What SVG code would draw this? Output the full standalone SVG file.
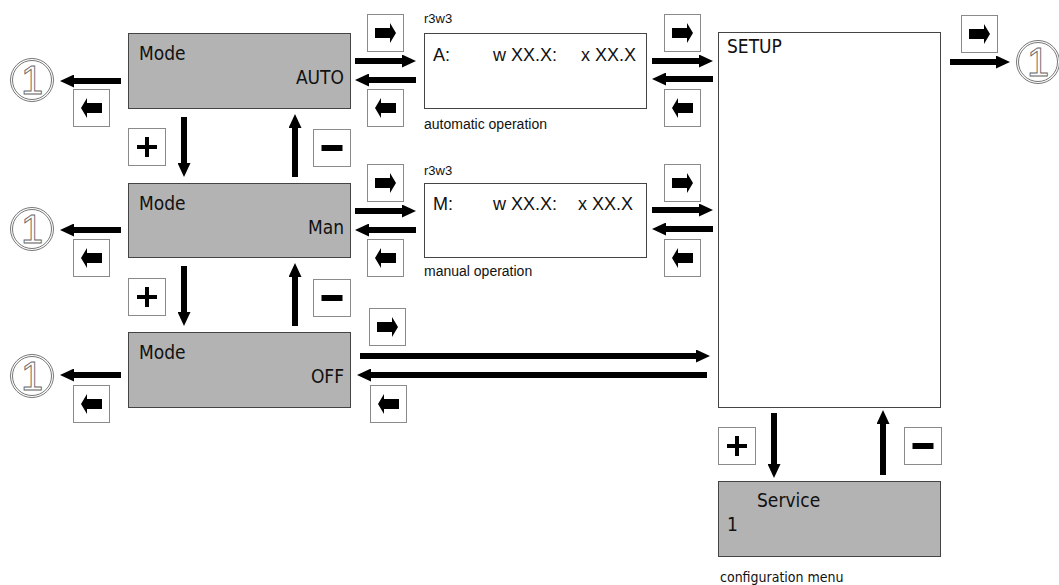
<svg xmlns="http://www.w3.org/2000/svg" xmlns:xlink="http://www.w3.org/1999/xlink" width="1059" height="585" viewBox="0 0 1059 585">
<style>
.mode{fill:#b3b3b3;stroke:#444;stroke-width:1}
.disp{fill:#fff;stroke:#444;stroke-width:1}
.t{font-family:'DejaVu Sans Condensed','DejaVu Sans',sans-serif;font-size:19px;fill:#111}
.a{font-family:'Liberation Sans',Arial,sans-serif;font-size:18px;fill:#111}
.s{font-family:'Liberation Sans',Arial,sans-serif;font-size:13px;fill:#111}
.op{font-family:'Liberation Sans',Arial,sans-serif;font-size:14px;fill:#111}
.c{font-family:'DejaVu Sans Condensed','DejaVu Sans',sans-serif;font-size:14px;fill:#111}
.conn{fill:none;stroke:#000;stroke-width:6;marker-end:url(#ah)}
.ring{fill:#fff;stroke:#777;stroke-width:1}
.one{font-family:'Liberation Sans',Arial,sans-serif;font-size:40px;fill:#fff;stroke:#666;stroke-width:0.9;text-anchor:middle}
</style>
<defs>
<marker id="ah" markerUnits="userSpaceOnUse" markerWidth="14" markerHeight="13" viewBox="0 0 14 13" refX="0" refY="6.5" orient="auto"><path d="M0,0 L14,6.5 L0,13 Z" fill="#000"/></marker>
<symbol id="k-fwd" viewBox="0 0 37 38" width="37" height="38"><rect x="0.5" y="0.5" width="36" height="37" fill="#fff" stroke="#8a8a8a"/><path d="M8,14 H23 V9 L29,19 L23,29 V24 H8 Z" fill="#000"/></symbol>
<symbol id="k-back" viewBox="0 0 37 38" width="37" height="38"><rect x="0.5" y="0.5" width="36" height="37" fill="#fff" stroke="#8a8a8a"/><path d="M29,14 H14 V9 L8,19 L14,29 V24 H29 Z" fill="#000"/></symbol>
<symbol id="k-plus" viewBox="0 0 38 38" width="38" height="38"><rect x="0.5" y="0.5" width="37" height="37" fill="#fff" stroke="#8a8a8a"/><path d="M9,19 H29 M19,9 V29" stroke="#000" stroke-width="4"/></symbol>
<symbol id="k-minus" viewBox="0 0 38 38" width="38" height="38"><rect x="0.5" y="0.5" width="37" height="37" fill="#fff" stroke="#8a8a8a"/><rect x="8.5" y="16" width="21" height="6" fill="#000"/></symbol>
</defs>
<rect width="1059" height="585" fill="#fff"/>

<g id="mode-auto"><rect class="mode" x="128.5" y="33.5" width="222" height="75"/><text class="t" x="139" y="60">Mode</text><text class="t" x="344" y="84" text-anchor="end">AUTO</text></g>
<g id="mode-man"><rect class="mode" x="128.5" y="183.5" width="222" height="74"/><text class="t" x="139" y="210">Mode</text><text class="t" x="344" y="234" text-anchor="end">Man</text></g>
<g id="mode-off"><rect class="mode" x="128.5" y="332.5" width="222" height="75"/><text class="t" x="139" y="359">Mode</text><text class="t" x="344" y="383" text-anchor="end">OFF</text></g>

<g id="disp-auto"><text class="s" x="424" y="23">r3w3</text><rect class="disp" x="424.5" y="33.5" width="222" height="75"/><text class="a" x="433" y="61">A:</text><text class="a" x="493" y="61">w XX.X:</text><text class="a" x="581" y="61">x XX.X</text><text class="op" x="424" y="129">automatic operation</text></g>
<g id="disp-man"><text class="s" x="424" y="175">r3w3</text><rect class="disp" x="424.5" y="183.5" width="222" height="74"/><text class="a" x="433" y="210">M:</text><text class="a" x="493" y="210">w XX.X:</text><text class="a" x="578" y="210">x XX.X</text><text class="op" x="424" y="276">manual operation</text></g>

<g id="setup"><rect class="disp" x="718.5" y="32.5" width="222" height="375"/><text class="t" x="727" y="53">SETUP</text></g>
<g id="service"><rect class="mode" x="718.5" y="481.5" width="222" height="75"/><text class="t" x="757" y="507">Service</text><text class="t" x="727" y="531">1</text><text class="c" x="720" y="582">configuration menu</text></g>

<g id="exit-auto"><circle class="ring" cx="32" cy="80" r="21.5"/><circle class="ring" cx="32" cy="80" r="19.5"/><text class="one" x="32" y="94">1</text></g>
<g id="exit-man"><circle class="ring" cx="32" cy="229" r="21.5"/><circle class="ring" cx="32" cy="229" r="19.5"/><text class="one" x="32" y="243">1</text></g>
<g id="exit-off"><circle class="ring" cx="32" cy="376" r="21.5"/><circle class="ring" cx="32" cy="376" r="19.5"/><text class="one" x="32" y="390">1</text></g>
<g id="exit-setup"><circle class="ring" cx="1038" cy="62" r="21.5"/><circle class="ring" cx="1038" cy="62" r="19.5"/><text class="one" x="1038" y="76">1</text></g>

<g id="connectors">
<path class="conn" d="M121,81 H74"/>
<path class="conn" d="M355,61 H402"/>
<path class="conn" d="M416,80 H369"/>
<path class="conn" d="M652,61 H699"/>
<path class="conn" d="M713,79 H666"/>
<path class="conn" d="M950,62 H996"/>
<path class="conn" d="M121,230 H74"/>
<path class="conn" d="M355,211 H402"/>
<path class="conn" d="M416,230 H369"/>
<path class="conn" d="M652,210 H699"/>
<path class="conn" d="M713,229 H666"/>
<path class="conn" d="M121,375 H74"/>
<path class="conn" d="M360,356 H696"/>
<path class="conn" d="M707,375 H371"/>
<path class="conn" d="M184,117 V163"/>
<path class="conn" d="M295,177 V128"/>
<path class="conn" d="M184,266 V312"/>
<path class="conn" d="M295,326 V277"/>
<path class="conn" d="M774,413 V464"/>
<path class="conn" d="M883,475 V424"/>
</g>

<g id="keys">
<use id="key-back-auto" xlink:href="#k-back" x="73" y="89"/>
<use id="key-back-man" xlink:href="#k-back" x="73" y="239"/>
<use id="key-back-off" xlink:href="#k-back" x="73" y="385"/>
<use id="key-fwd-auto" xlink:href="#k-fwd" x="367" y="14"/>
<use id="key-back-auto2" xlink:href="#k-back" x="367" y="89"/>
<use id="key-fwd-man" xlink:href="#k-fwd" x="367" y="164"/>
<use id="key-back-man2" xlink:href="#k-back" x="367" y="239"/>
<use id="key-fwd-off" xlink:href="#k-fwd" x="369" y="308"/>
<use id="key-back-off2" xlink:href="#k-back" x="370" y="385"/>
<use id="key-fwd-da" xlink:href="#k-fwd" x="664" y="14"/>
<use id="key-back-da" xlink:href="#k-back" x="664" y="89"/>
<use id="key-fwd-dm" xlink:href="#k-fwd" x="664" y="164"/>
<use id="key-back-dm" xlink:href="#k-back" x="664" y="239"/>
<use id="key-fwd-setup" xlink:href="#k-fwd" x="961" y="15"/>
<use id="key-plus-1" xlink:href="#k-plus" x="128" y="128"/>
<use id="key-plus-2" xlink:href="#k-plus" x="128" y="278"/>
<use id="key-plus-3" xlink:href="#k-plus" x="718" y="427"/>
<use id="key-minus-1" xlink:href="#k-minus" x="313" y="129"/>
<use id="key-minus-2" xlink:href="#k-minus" x="313" y="279"/>
<use id="key-minus-3" xlink:href="#k-minus" x="904" y="427"/>
</g>
</svg>
